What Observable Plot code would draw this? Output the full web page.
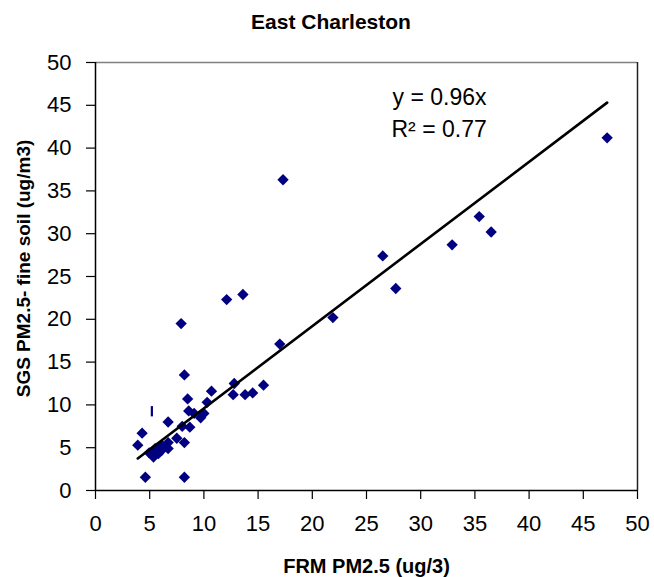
<!DOCTYPE html>
<html>
<head>
<meta charset="utf-8">
<script src="https://cdn.jsdelivr.net/npm/d3@7"></script>
<script src="https://cdn.jsdelivr.net/npm/@observablehq/plot@0.6"></script>
<style>
  body { margin: 0; background: #fff; font-family: Arial, "Liberation Sans", sans-serif; }
  #chart { width: 654px; }
  #title { height: 40px; line-height: 44px; text-align: center; font-weight: bold; font-size: 21px; padding-left: 8px; color: #000; }
</style>
</head>
<body>
<div id="chart">
  <div id="title">East Charleston</div>
</div>
<script>
// FRM PM2.5 (x) against SGS fine soil PM2.5 (y), East Charleston site
const frm = [47.2, 35.4, 36.5, 32.9, 26.5, 27.7, 21.9, 17.3, 17.0, 13.6, 12.1, 7.9, 8.2, 15.5,
             12.8, 12.7, 13.8, 14.5, 10.7, 8.5, 10.3, 8.6, 9.1, 10.0, 9.7, 6.7, 8.0, 8.7,
             4.3, 7.5, 8.2, 6.7, 3.9, 6.1, 6.7, 5.5, 4.95, 5.8, 5.35, 6.1, 4.6, 8.2];
const sgs = [41.2, 32.0, 30.2, 28.7, 27.4, 23.6, 20.2, 36.3, 17.1, 22.9, 22.3, 19.5, 13.5, 12.3,
             12.5, 11.2, 11.2, 11.4, 11.6, 10.7, 10.3, 9.3, 9.0, 9.0, 8.5, 8.0, 7.5, 7.4,
             6.7, 6.1, 5.6, 5.6, 5.3, 5.3, 4.9, 4.9, 4.4, 4.3, 3.9, 4.7, 1.55, 1.55];

// Trendline through the origin and its fit statistics
const slope = 0.96;
const rSquared = 0.77;

// Stray bar-shaped marker near the low end (x, lower y, upper y)
const barX = [5.2];
const barLow = [8.6];
const barHigh = [9.8];

const ticks = [0, 5, 10, 15, 20, 25, 30, 35, 40, 45, 50];

const points = frm.map((x, i) => ({x, y: sgs[i]}));
const [xMin, xMax] = d3.extent(frm);
const trend = [xMin, xMax].map(x => ({x, y: slope * x}));
const bars = barX.map((x, i) => ({x, y1: barLow[i], y2: barHigh[i]}));

const navy = "#000080";

const chart = Plot.plot({
  width: 654,
  height: 537,
  marginLeft: 95,
  marginRight: 17,
  marginTop: 22,
  marginBottom: 87,
  style: {fontFamily: "Arial, 'Liberation Sans', sans-serif", fontSize: "22px", color: "#000", background: "#fff", overflow: "visible"},
  x: {domain: [0, 50]},
  y: {domain: [0, 50]},
  marks: [
    Plot.ruleY([50], {stroke: "#808080", strokeWidth: 1.5}),
    Plot.ruleX([50], {stroke: "#222", strokeWidth: 1.5}),
    Plot.axisX({ticks, tickSize: 9, tickPadding: 16, label: null, stroke: "#000", strokeWidth: 1.2}),
    Plot.axisY({ticks, tickSize: 9, tickPadding: 15, label: null, stroke: "#000", strokeWidth: 1.2}),
    Plot.ruleX([0], {stroke: "#000", strokeWidth: 1.5}),
    Plot.ruleY([0], {stroke: "#000", strokeWidth: 1.5}),
    Plot.dot(points, {x: "x", y: "y", symbol: "diamond2", r: 5.1, fill: navy, stroke: "none"}),
    Plot.ruleX(bars, {x: "x", y1: "y1", y2: "y2", stroke: navy, strokeWidth: 2.2}),
    Plot.line(trend, {x: "x", y: "y", stroke: "#000", strokeWidth: 2.6}),
    Plot.text([`y = ${slope}x`], {frameAnchor: "top-left", dx: 297, dy: 35, textAnchor: "start", lineAnchor: "middle", fontSize: 23}),
    Plot.text([`R² = ${rSquared}`], {frameAnchor: "top-left", dx: 296, dy: 67, textAnchor: "start", lineAnchor: "middle", fontSize: 23}),
    Plot.text(["FRM PM2.5 (ug/3)"], {frameAnchor: "bottom", dy: 76, textAnchor: "middle", lineAnchor: "middle", fontWeight: "bold", fontSize: 20}),
    Plot.text(["SGS PM2.5- fine soil (ug/m3)"], {frameAnchor: "left", dx: -72, dy: -8, rotate: -90, textAnchor: "middle", lineAnchor: "middle", fontWeight: "bold", fontSize: 19})
  ]
});

document.getElementById("chart").appendChild(chart);
</script>
</body>
</html>
